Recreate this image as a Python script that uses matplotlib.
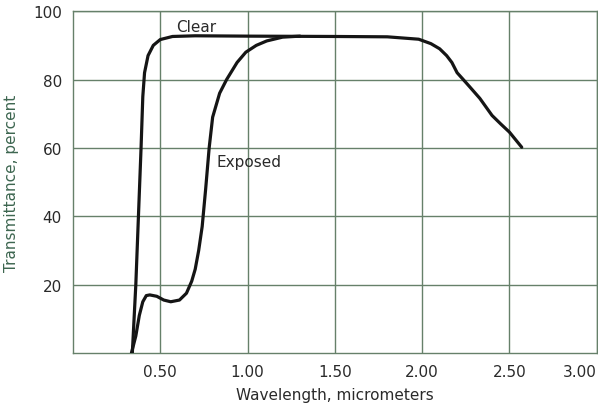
import numpy as np
import matplotlib
matplotlib.use("Agg")
import matplotlib.pyplot as plt

# Transmittance curves (wavelength in micrometers, percent)
clear_x = [0.34, 0.36, 0.375, 0.39, 0.40, 0.41, 0.43, 0.46, 0.50, 0.57, 0.70, 1.00,
           1.50, 1.80, 1.98, 2.05, 2.10, 2.14, 2.17, 2.20, 2.23, 2.27, 2.33, 2.40,
           2.45, 2.50, 2.57]
clear_y = [0, 20, 40, 60, 75, 82, 87, 90, 91.7, 92.6, 92.8, 92.7,
           92.6, 92.5, 91.8, 90.5, 89, 87, 85, 82, 80.3, 78, 74.5, 69.5,
           67, 64.6, 60.2]

exposed_x = [0.335, 0.36, 0.38, 0.40, 0.42, 0.44, 0.48, 0.52, 0.56, 0.61, 0.65, 0.68,
             0.70, 0.72, 0.74, 0.76, 0.78, 0.80, 0.84, 0.88, 0.94, 0.99, 1.05, 1.11,
             1.20, 1.30]
exposed_y = [0, 5, 11, 15, 16.8, 17, 16.6, 15.5, 15, 15.5, 17.5, 21,
             24.5, 30, 37, 48, 60, 69, 76, 80, 85, 88, 90, 91.3,
             92.4, 92.7]

x_ticks = [0.5, 1.0, 1.5, 2.0, 2.5, 3.0]
x_labels = ["0.50", "1.00", "1.50", "2.00", "2.50", "3.00"]
y_ticks = [20, 40, 60, 80, 100]

grid_col = "#66806a"
text_col = "#2a2a2a"
label_col = "#3d6650"

fig = plt.figure(figsize=(5.98, 4.06), dpi=100)
ax = fig.add_axes([0.122, 0.128, 0.876, 0.842])

ax.plot(clear_x, clear_y, color="#151515", lw=2.3, solid_capstyle="round", zorder=3)
ax.plot(exposed_x, exposed_y, color="#151515", lw=2.3, solid_capstyle="round", zorder=3)

ax.set_xlim(0, 3.0)
ax.set_ylim(0, 100)
ax.set_xticks(x_ticks)
ax.set_xticklabels(x_labels)
ax.set_yticks(y_ticks)
ax.grid(True, color=grid_col, lw=1.0)
ax.tick_params(length=0, labelsize=11, labelcolor=text_col, pad=8)
ax.get_xticklabels()[-1].set_horizontalalignment("right")
for s in ax.spines.values():
    s.set_color(grid_col)
    s.set_linewidth(1.0)

ax.text(0.59, 95.5, "Clear", fontsize=11, color=text_col, va="center")
ax.text(0.82, 56, "Exposed", fontsize=11, color=text_col, va="center")

ax.set_xlabel("Wavelength, micrometers", fontsize=11, color=text_col, labelpad=6)
ax.set_ylabel("Transmittance, percent", fontsize=11, color=label_col, labelpad=10)

fig.savefig("out.png", dpi=100)
